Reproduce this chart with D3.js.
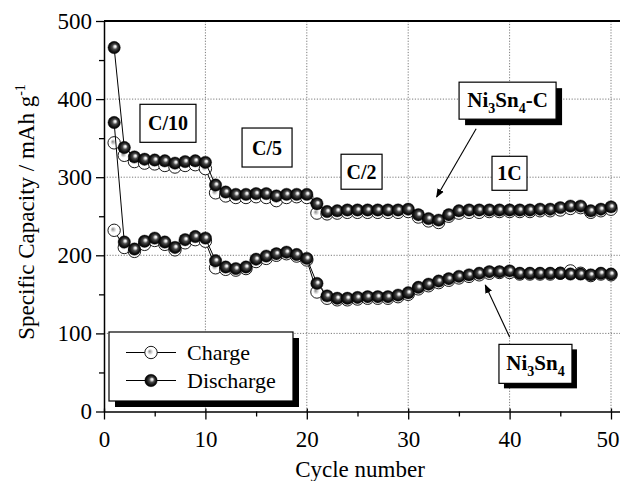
<!DOCTYPE html>
<html>
<head>
<meta charset="utf-8">
<script src="https://cdn.jsdelivr.net/npm/d3@7"></script>
<style>
  html, body { margin: 0; padding: 0; background: #fff; }
  svg { display: block; }
  text { font-family: "Liberation Serif", "Times New Roman", serif; fill: #000; }
</style>
</head>
<body>
<svg id="chart" width="620" height="481"></svg>
<script>
// Cycle numbers 1..50
const cycles = d3.range(1, 51);

// Ni3Sn4-C composite
const compositeDischarge = [466, 338, 326, 323, 322, 321, 318, 320, 321, 319,
  290, 281, 278, 278, 279, 279, 276, 278, 278, 278,
  266, 256, 257, 258, 258, 258, 258, 258, 258, 259,
  252, 247, 245, 252, 257, 258, 258, 258, 258, 258,
  258, 258, 259, 259, 261, 263, 263, 257, 259, 262];
const compositeCharge = [344, 328, 320, 318, 317, 315, 313, 315, 316, 311,
  280, 276, 274, 274, 275, 274, 270, 274, 275, 274,
  254, 253, 254, 255, 255, 255, 255, 255, 255, 256,
  249, 244, 242, 250, 254, 255, 255, 256, 256, 256,
  256, 256, 257, 257, 258, 260, 261, 255, 257, 259];

// Bare Ni3Sn4
const bareDischarge = [370, 217, 208, 218, 222, 217, 210, 220, 224, 222,
  193, 185, 183, 185, 195, 199, 202, 204, 201, 196,
  164, 148, 145, 145, 146, 147, 147, 147, 149, 152,
  159, 163, 167, 170, 173, 175, 177, 179, 179, 180,
  177, 177, 177, 177, 177, 176, 176, 175, 177, 176];
const bareCharge = [232, 210, 205, 214, 219, 214, 207, 216, 220, 218,
  184, 182, 181, 183, 192, 196, 200, 202, 199, 194,
  153, 145, 143, 143, 144, 145, 145, 145, 147, 150,
  157, 161, 165, 168, 171, 173, 175, 177, 178, 178,
  176, 176, 176, 176, 177, 180, 177, 174, 176, 175];

const xTicks = [0, 10, 20, 30, 40, 50];
const yTicks = [0, 100, 200, 300, 400, 500];
const rateLabels = ["C/10", "C/5", "C/2", "1C"];

const svg = d3.select("#chart");
const plotLeft = 104, plotTop = 21, plotBottom = 411.5;
const plotRight = plotLeft + 52 * 10.14;

const x = d3.scaleLinear().domain([0, 52]).range([plotLeft, plotRight]);
const y = d3.scaleLinear().domain([0, 500]).range([plotBottom, plotTop]);

// gradients for the sphere-like markers
const defs = svg.append("defs");
const gBall = defs.append("radialGradient").attr("id", "ball")
  .attr("cx", "0.5").attr("cy", "0.5").attr("r", "0.5")
  .attr("fx", "0.6").attr("fy", "0.4");
[[0, "#ffffff"], [0.16, "#e0e0e0"], [0.42, "#4a4a4a"], [0.75, "#141414"], [1, "#000"]]
  .forEach(([o, c]) => gBall.append("stop").attr("offset", o).attr("stop-color", c));
const gOpen = defs.append("radialGradient").attr("id", "open")
  .attr("cx", "0.5").attr("cy", "0.5").attr("r", "0.5")
  .attr("fx", "0.38").attr("fy", "0.4");
[[0, "#8a8a8a"], [0.25, "#c8c8c8"], [0.5, "#ffffff"], [1, "#ffffff"]]
  .forEach(([o, c]) => gOpen.append("stop").attr("offset", o).attr("stop-color", c));

// grid
const grid = svg.append("g").attr("stroke", "#7a7a7a").attr("stroke-width", 1)
  .attr("stroke-dasharray", "1.2,1.6");
grid.selectAll("line.vx").data(xTicks.filter(d => d > 0)).join("line")
  .attr("x1", d => x(d)).attr("x2", d => x(d)).attr("y1", plotBottom).attr("y2", plotTop);
grid.selectAll("line.hy").data(yTicks.filter(d => d > 0 && d < 500)).join("line")
  .attr("x1", plotLeft).attr("x2", plotRight).attr("y1", d => y(d)).attr("y2", d => y(d));

// axes
const fontTick = "23px";
const xAxis = svg.append("g").attr("transform", `translate(0,${plotBottom})`)
  .call(d3.axisBottom(x).tickValues(xTicks).tickSizeInner(8).tickSizeOuter(0).tickPadding(6));
xAxis.selectAll("text").style("font-size", fontTick).attr("dy", "0.95em");
// keep the last label inside the page edge
xAxis.selectAll(".tick").filter(d => d === 50).select("text")
  .attr("text-anchor", "end").attr("x", 619 - x(50));
svg.append("g").attr("transform", `translate(0,${plotBottom})`)
  .call(d3.axisBottom(x).tickValues(xTicks).tickSize(-3).tickFormat(""))
  .call(g => g.select(".domain").remove());
svg.append("g").attr("transform", `translate(0,${plotBottom})`)
  .call(d3.axisBottom(x).tickValues(d3.range(5, 51, 10)).tickSize(5).tickFormat(""))
  .call(g => g.select(".domain").remove());

const yAxis = svg.append("g").attr("transform", `translate(${plotLeft},0)`)
  .call(d3.axisLeft(y).tickValues(yTicks).tickSizeInner(8).tickSizeOuter(0).tickPadding(4));
yAxis.selectAll("text").style("font-size", fontTick);
svg.append("g").attr("transform", `translate(${plotLeft},0)`)
  .call(d3.axisLeft(y).tickValues(d3.range(50, 500, 100)).tickSize(5).tickFormat(""))
  .call(g => g.select(".domain").remove());

svg.selectAll(".domain").attr("stroke-width", 1.5);
svg.selectAll(".tick line").attr("stroke-width", 1.3);

// top frame line
svg.append("line").attr("x1", plotLeft).attr("x2", plotRight).attr("y1", y(500)).attr("y2", y(500))
  .attr("stroke", "#000").attr("stroke-width", 2);

// axis titles
svg.append("text").attr("x", 360).attr("y", 477).attr("text-anchor", "middle")
  .style("font-size", "23px").text("Cycle number");
const yt = svg.append("text").attr("transform", "translate(34,212) rotate(-90)")
  .attr("text-anchor", "middle").style("font-size", "23px");
yt.append("tspan").text("Specific Capacity / mAh g");
yt.append("tspan").attr("dy", -9).style("font-size", "14px").text("-1");

// series
const line = d3.line().x((d, i) => x(cycles[i])).y(d => y(d));
function drawSeries(vals, kind) {
  svg.append("path").datum(vals).attr("d", line)
    .attr("fill", "none").attr("stroke", "#000").attr("stroke-width", 1);
  svg.append("g").selectAll("circle").data(vals).join("circle")
    .attr("cx", (d, i) => x(cycles[i])).attr("cy", d => y(d)).attr("r", 6.2)
    .attr("fill", kind === "charge" ? "url(#open)" : "url(#ball)")
    .attr("stroke", "#000").attr("stroke-width", kind === "charge" ? 0.9 : 0.4);
}
drawSeries(bareCharge, "charge");
drawSeries(compositeCharge, "charge");
drawSeries(bareDischarge, "discharge");
drawSeries(compositeDischarge, "discharge");

// labelled boxes
function box(cx, cy, w, h, shadow) {
  const g = svg.append("g");
  if (shadow) g.append("rect").attr("x", cx - w / 2 + shadow).attr("y", cy - h / 2 + shadow)
    .attr("width", w).attr("height", h).attr("fill", "#000");
  g.append("rect").attr("x", cx - w / 2).attr("y", cy - h / 2).attr("width", w).attr("height", h)
    .attr("fill", "#fff").attr("stroke", "#000").attr("stroke-width", 1.2);
  return g;
}
const rateBoxes = [
  { c: 6.31, v: 369, w: 56, h: 38 },
  { c: 16.08, v: 338, w: 50, h: 39 },
  { c: 25.4, v: 307, w: 41, h: 35 },
  { c: 39.99, v: 305, w: 35, h: 34 }
];
rateBoxes.forEach((b, i) => {
  const cx = x(b.c), cy = y(b.v);
  box(cx, cy, b.w, b.h, 0).append("text").attr("x", cx).attr("y", cy + 7)
    .attr("text-anchor", "middle").style("font-size", "20px").style("font-weight", "bold")
    .text(rateLabels[i]);
});

function formula(g, cx, cy, withC) {
  const t = g.append("text").attr("x", cx).attr("y", cy + 6).attr("text-anchor", "middle")
    .style("font-size", "21px").style("font-weight", "bold");
  t.append("tspan").text("Ni");
  t.append("tspan").attr("dy", 6).style("font-size", "14px").text("3");
  t.append("tspan").attr("dy", -6).text("Sn");
  t.append("tspan").attr("dy", 6).style("font-size", "14px").text("4");
  if (withC) t.append("tspan").attr("dy", -6).text("-C");
}
const cBox = { c: 39.8, v: 398 };
formula(box(x(cBox.c), y(cBox.v), 97, 37, 6), x(cBox.c), y(cBox.v), true);
const nBox = { c: 42.55, v: 61 };
formula(box(x(nBox.c), y(nBox.v), 73, 39, 5), x(nBox.c), y(nBox.v), false);

// arrows pointing from the labels to their curves
defs.append("marker").attr("id", "arrow").attr("viewBox", "0 0 10 10")
  .attr("refX", 9).attr("refY", 5).attr("markerWidth", 9).attr("markerHeight", 9)
  .attr("markerUnits", "userSpaceOnUse").attr("orient", "auto")
  .append("path").attr("d", "M0,1 L10,5 L0,9 Z").attr("fill", "#000");
const arrows = [
  { from: [36.7, 362], to: [32.8, 274.6] },
  { from: [40.0, 95.4], to: [37.6, 162] }
];
arrows.forEach(a => svg.append("line")
  .attr("x1", x(a.from[0])).attr("y1", y(a.from[1]))
  .attr("x2", x(a.to[0])).attr("y2", y(a.to[1]))
  .attr("stroke", "#000").attr("stroke-width", 1.1).attr("marker-end", "url(#arrow)"));

// legend
const lg = svg.append("g");
lg.append("rect").attr("x", 115).attr("y", 338).attr("width", 184).attr("height", 69).attr("fill", "#000");
lg.append("rect").attr("x", 109).attr("y", 332).attr("width", 184).attr("height", 69)
  .attr("fill", "#fff").attr("stroke", "#000").attr("stroke-width", 1.2);
[["Charge", "url(#open)", 352.5], ["Discharge", "url(#ball)", 380.5]].forEach(([label, fill, ly]) => {
  lg.append("line").attr("x1", 126).attr("x2", 176).attr("y1", ly).attr("y2", ly)
    .attr("stroke", "#000").attr("stroke-width", 1);
  lg.append("circle").attr("cx", 151).attr("cy", ly).attr("r", 6.2).attr("fill", fill)
    .attr("stroke", "#000").attr("stroke-width", label === "Charge" ? 0.9 : 0.4);
  lg.append("text").attr("x", 187).attr("y", ly + 7).style("font-size", "22px").text(label);
});
</script>
</body>
</html>
